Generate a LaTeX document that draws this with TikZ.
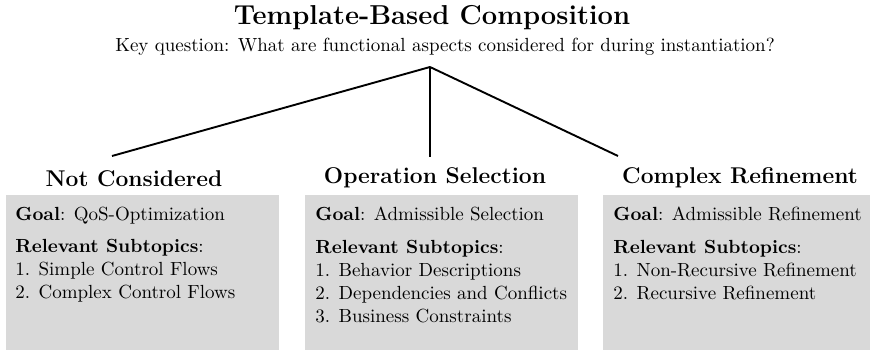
\documentclass[tikz,border=0pt]{standalone}
\usetikzlibrary{calc}
\definecolor{panelgray}{RGB}{217,217,217}
\begin{document}
\begin{tikzpicture}[x=0.5263pt,y=-0.5263pt,
  title/.style={inner sep=0, font=\fontsize{14.4}{16}\selectfont\bfseries},
  question/.style={inner sep=0, font=\fontsize{10}{12}\selectfont},
  heading/.style={inner sep=0, font=\fontsize{12}{14}\selectfont\bfseries},
  panel/.style={fill=panelgray, draw=none, inner sep=0, anchor=north west,
    minimum height=81.3pt},
  paneltext/.style={inner sep=0, anchor=north west, align=left,
    font=\fontsize{10}{12.1}\selectfont},
  link/.style={line width=1pt}]
  \useasboundingbox (0,0) rectangle (871,351);

  % header
  \node[title] (t) at (432,18) {Template-Based Composition};
  \node[question] (q) at (445,47) {Key question: What are functional aspects considered for during instantiation?};
  \coordinate (apex) at (430,67);

  % category headings
  \node[heading] (h1) at (134,179) {Not Considered};
  \node[heading] (h2) at (435,178) {Operation Selection};
  \node[heading] (h3) at (740,178) {Complex Refinement};

  % branch ends above the headings
  \coordinate (e1) at (112,156);
  \coordinate (e2) at (430,157);
  \coordinate (e3) at (618,156);

  % branches
  \draw[link] (apex) -- (e1);
  \draw[link] (apex) -- (e2);
  \draw[link] (apex) -- (e3);

  % grey panels
  \node[panel, minimum width=143.7pt] (b1) at (6,195) {};
  \node[panel, minimum width=143.7pt] (b2) at (305,195) {};
  \node[panel, minimum width=140.5pt] (b3) at (603,195) {};

  % panel contents
  \node[paneltext] (c1) at ($(b1.north west)+(9,12)$) {\textbf{Goal}: QoS-Optimization\\[4.8pt]
    \textbf{Relevant Subtopics}:\\
    1. Simple Control Flows\\
    2. Complex Control Flows};
  \node[paneltext] (c2) at ($(b2.north west)+(10,12)$) {\textbf{Goal}: Admissible Selection\\[4.8pt]
    \textbf{Relevant Subtopics}:\\
    1. Behavior Descriptions\\
    2. Dependencies and Conflicts\\
    3. Business Constraints};
  \node[paneltext] (c3) at ($(b3.north west)+(10,12)$) {\textbf{Goal}: Admissible Refinement\\[4.8pt]
    \textbf{Relevant Subtopics}:\\
    1. Non-Recursive Refinement\\
    2. Recursive Refinement};
\end{tikzpicture}
\end{document}
